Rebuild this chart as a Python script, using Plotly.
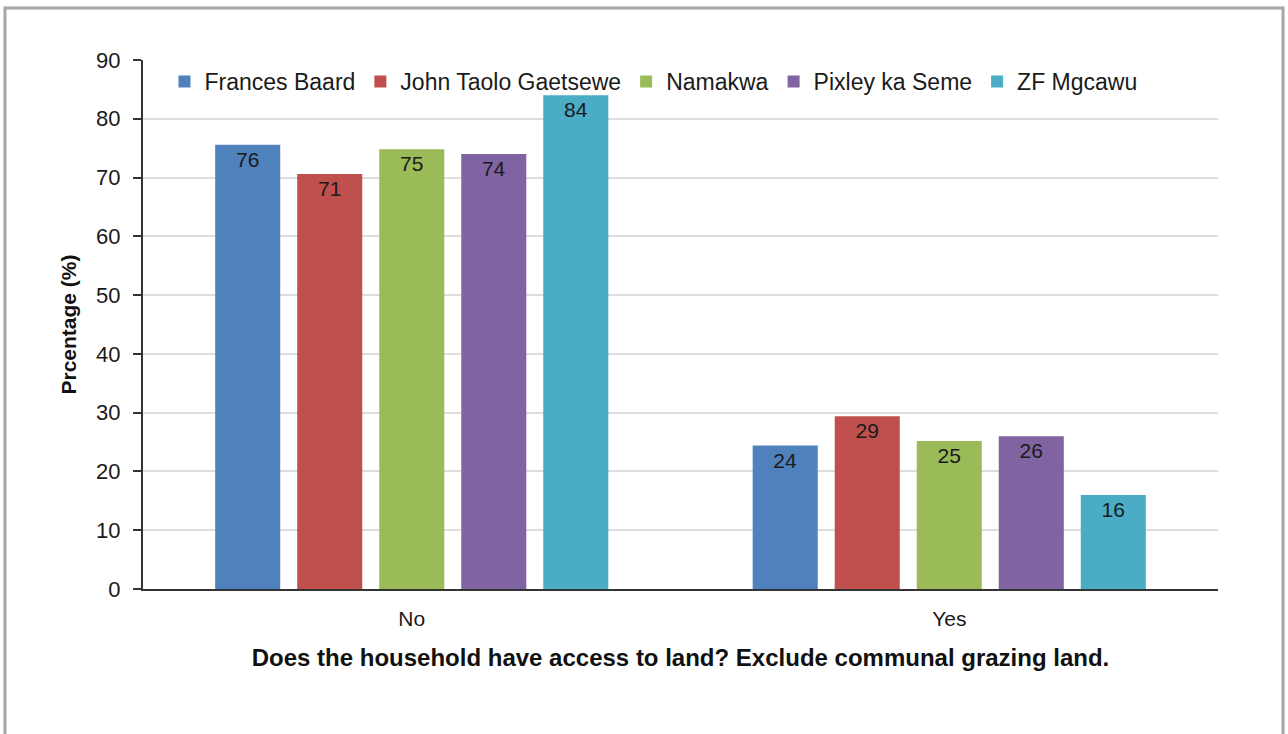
import plotly.graph_objects as go

categories = ["No", "Yes"]
series_names = ["Frances Baard", "John Taolo Gaetsewe", "Namakwa", "Pixley ka Seme", "ZF Mgcawu"]
frances = [75.6, 24.4]
john = [70.6, 29.4]
namakwa = [74.8, 25.2]
pixley = [74.0, 26.0]
zf = [84.0, 16.0]
series_values = [frances, john, namakwa, pixley, zf]
colors = ["#4F81BD", "#C0504D", "#9BBB59", "#8064A2", "#4BACC6"]
y_ticks = [0, 10, 20, 30, 40, 50, 60, 70, 80, 90]

FONT = "Liberation Sans"
TXT = "#1a1a1a"
fig = go.Figure()
for name, vals, col in zip(series_names, series_values, colors):
    fig.add_trace(go.Bar(
        x=categories, y=vals, name=name, marker_color=col, marker_line_width=0,
        texttemplate="%{y:.0f}", textposition="inside", insidetextanchor="end",
        textfont=dict(family=FONT, size=21, color=TXT), textangle=0,
    ))

fig.update_layout(
    width=1288, height=734,
    margin=dict(l=143, r=70, t=60, b=145),
    paper_bgcolor="white", plot_bgcolor="white",
    barmode="group", bargap=0.237, bargroupgap=0.207,
    font=dict(family=FONT, size=20, color=TXT),
    legend=dict(orientation="h", x=0.02, y=1.0, xanchor="left", yanchor="top",
                font=dict(family=FONT, size=23, color=TXT),
                bgcolor="rgba(0,0,0,0)", itemwidth=30, traceorder="normal"),
    xaxis=dict(showline=True, linecolor="#333333", linewidth=2, ticks="",
               ticklabelstandoff=10,
               tickfont=dict(family=FONT, size=21, color=TXT),
               title=dict(text="<b>Does the household have access to land? Exclude communal grazing land.</b>",
                          font=dict(family=FONT, size=24, color="#111111"), standoff=20)),
    yaxis=dict(range=[0, 90], tickvals=y_ticks, showline=True, linecolor="#333333", linewidth=2,
               ticks="outside", ticklen=8, tickcolor="#333333", tickwidth=2,
               ticklabelstandoff=8,
               showgrid=True, gridcolor="#dddddd", gridwidth=2, zeroline=False,
               tickfont=dict(family=FONT, size=22, color=TXT),
               title=dict(text="<b>Prcentage (%)</b>", font=dict(family=FONT, size=21, color="#111111"),
                          standoff=14)),
)

fig.add_shape(type="rect", xref="paper", yref="paper",
              x0=-0.1284, x1=1.0605, y0=-0.35, y1=1.0983,
              line=dict(color="#a6a6a6", width=3), fillcolor="rgba(0,0,0,0)", layer="below")

fig.write_html("out.html")
